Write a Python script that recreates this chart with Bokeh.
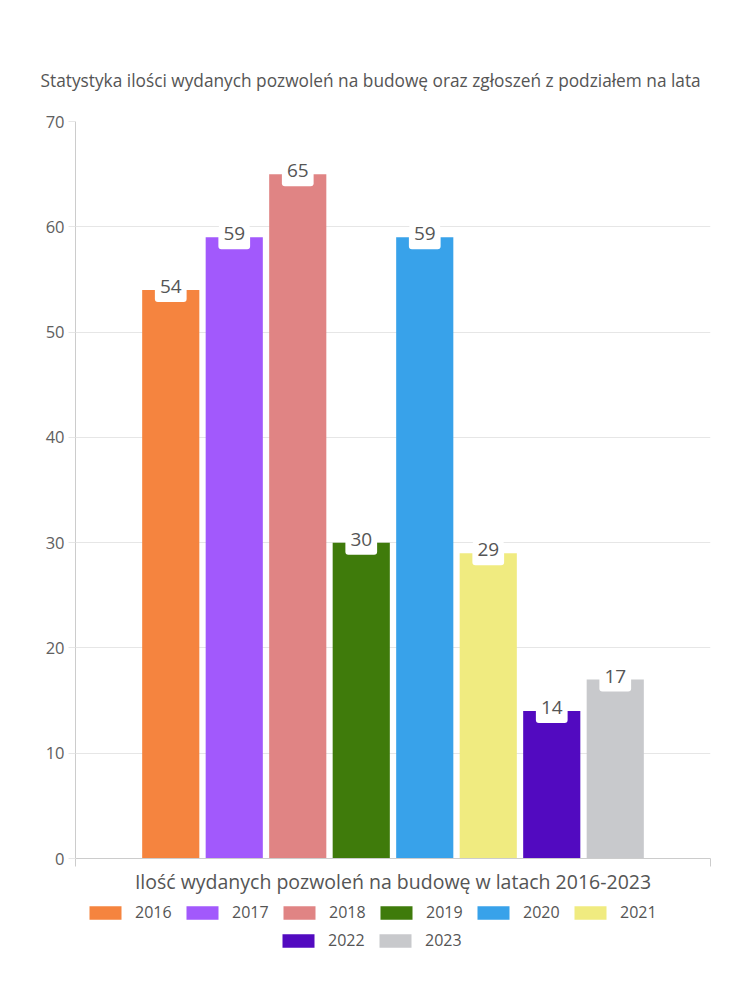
from bokeh.plotting import figure
from bokeh.layouts import column
from bokeh.models import Range1d, FixedTicker, ColumnDataSource, Legend, LegendItem, Title
from bokeh.embed import file_html
from bokeh.resources import INLINE
from bokeh.core.properties import value

# ---- data ----
years = ["2016", "2017", "2018", "2019", "2020", "2021", "2022", "2023"]
counts = [54, 59, 65, 30, 59, 29, 14, 17]
colors = ["#F5843F", "#A259FC", "#E08484", "#3F7B0B", "#38A2EA", "#F0EB80", "#520AC0", "#C8C9CC"]
y_ticks = [0, 10, 20, 30, 40, 50, 60, 70]
title_text = "Statystyka ilości wydanych pozwoleń na budowę oraz zgłoszeń z podziałem na lata"
x_label = "Ilość wydanych pozwoleń na budowę w latach 2016-2023"

FONT = "Open Sans"
TXT = "#555555"

n = len(years)
slot = 0.8 / n
xs = [0.5 + (i - (n - 1) / 2) * slot for i in range(n)]
src = ColumnDataSource(dict(x=xs, top=counts, color=colors, year=years,
                            label=[str(c) for c in counts]))

p = figure(width=750, height=898, x_range=Range1d(0, 1), y_range=Range1d(0, 70),
           output_backend="svg", toolbar_location=None,
           min_border_left=75, min_border_right=40, min_border_top=121, min_border_bottom=40)
p.outline_line_color = None
p.background_fill_color = "white"
p.border_fill_color = "white"

p.title = Title(text=title_text, align="left", offset=-35, text_font=FONT, text_font_size="17.3px",
                text_font_style="normal", text_color=TXT, standoff=60)

bars = p.vbar(x="x", top="top", bottom=0, width=slot * 0.9, source=src,
              fill_color="color", line_color=None)

p.text(x="x", y="top", text="label", source=src, text_align="center",
       text_baseline="middle", text_font=value(FONT), text_font_size="19px",
       text_color=TXT, background_fill_color="white",
       padding=dict(left=5, right=5, top=2, bottom=9), border_radius=3)

# grids
p.xgrid.ticker = FixedTicker(ticks=[0, 1])
p.xgrid.grid_line_color = "#e6e6e6"
p.ygrid.ticker = FixedTicker(ticks=y_ticks)
p.ygrid.grid_line_color = "#e6e6e6"

# y axis
p.yaxis.ticker = FixedTicker(ticks=y_ticks)
p.yaxis.axis_line_color = "#cccccc"
p.yaxis.major_tick_line_color = "#e6e6e6"
p.yaxis.major_tick_out = 7
p.yaxis.major_tick_in = 0
p.yaxis.minor_tick_line_color = None
p.yaxis.major_label_text_font = FONT
p.yaxis.major_label_text_font_size = "16.5px"
p.yaxis.major_label_text_color = "#606060"
p.yaxis.major_label_standoff = 4

# x axis
p.xaxis.ticker = FixedTicker(ticks=[0, 1])
p.xaxis.major_label_overrides = {0: "", 1: ""}
p.xaxis.major_label_text_font_size = "1px"
p.xaxis.major_label_standoff = 0
p.xaxis.axis_line_color = "#cccccc"
p.xaxis.major_tick_line_color = "#cccccc"
p.xaxis.major_tick_out = 8
p.xaxis.major_tick_in = 0
p.xaxis.minor_tick_line_color = None
p.xaxis.axis_label = x_label
p.xaxis.axis_label_text_font = FONT
p.xaxis.axis_label_text_font_size = "19.5px"
p.xaxis.axis_label_text_font_style = "normal"
p.xaxis.axis_label_text_color = TXT
p.xaxis.axis_label_standoff = 1

# ---- legend strip ----
lg = figure(width=750, height=102, x_range=Range1d(0, 1), y_range=Range1d(1000, 1001),
            output_backend="svg", toolbar_location=None,
            x_axis_location=None, y_axis_location=None,
            min_border_left=75, min_border_right=40, min_border_top=0, min_border_bottom=0)
lg.outline_line_color = None
lg.xgrid.visible = False
lg.ygrid.visible = False
lg_bars = lg.vbar(x="x", top="top", bottom=0, width=slot * 0.9, source=src,
                  fill_color="color", line_color=None)

def make_legend(idx, loc):
    items = [LegendItem(label=years[i], renderers=[lg_bars], index=i) for i in idx]
    return Legend(items=items, orientation="horizontal", location=loc,
                  glyph_width=40, glyph_height=17, label_standoff=10, spacing=9,
                  label_width=38, label_text_font=FONT, label_text_font_size="16px",
                  label_text_color=TXT, padding=0, margin=0,
                  border_line_color=None, background_fill_alpha=0)

lg.add_layout(make_legend(range(0, 6), (10, 77)))
lg.add_layout(make_legend(range(6, 8), (203, 49)))

open("out.html", "w").write(file_html(column(p, lg, spacing=0), INLINE))
